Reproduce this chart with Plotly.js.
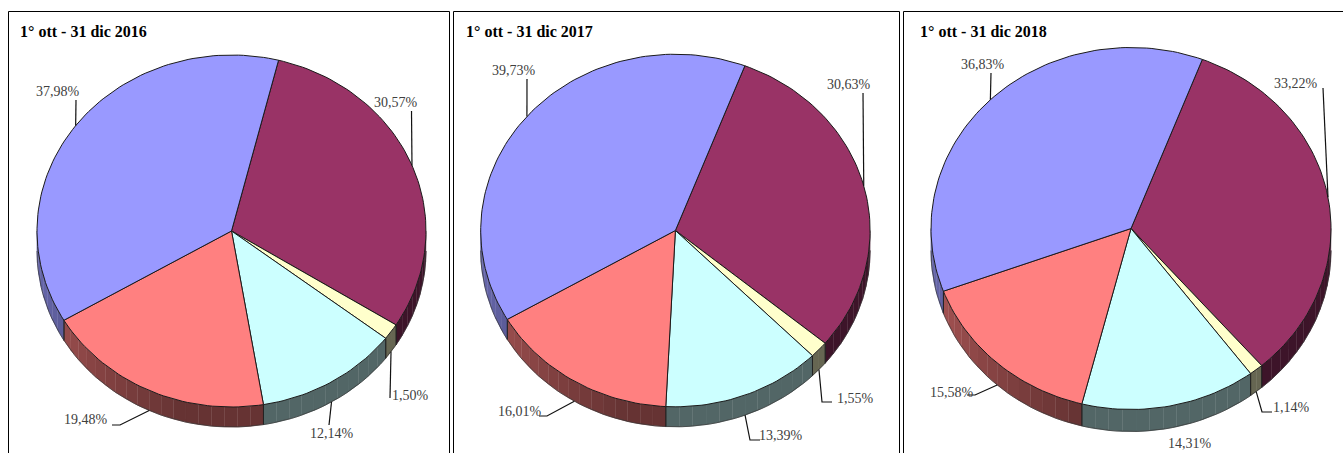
<!DOCTYPE html>
<html><head><meta charset="utf-8">
<script src="https://cdn.plot.ly/plotly-3.0.1.min.js"></script>
<style>html,body{margin:0;padding:0;background:#fff;overflow:hidden}#chart{width:1343px;height:453px}</style>
</head><body><div id="chart"></div>
<script>
// ---- data ----
const sliceNames = ["Prune", "Giallo", "Azzurro", "Rosso", "Viola"];
const titles = ["1° ott - 31 dic 2016", "1° ott - 31 dic 2017", "1° ott - 31 dic 2018"];
const values2016 = [30.57, 1.50, 12.14, 19.48, 37.98];
const values2017 = [30.63, 1.55, 13.39, 16.01, 39.73];
const values2018 = [33.22, 1.14, 14.31, 15.58, 36.83];
const seriesValues = [values2016, values2017, values2018];

// ---- styles ----
const topColors = [[153,51,102],[255,255,204],[204,255,255],[255,128,128],[153,153,255]];
const labelFont = "Liberation Serif";

// ---- layout of each 3-D pie, in page pixels ----
const pies = [
  {cx:231.5, cy:231, rx:194.5, ry:176, depth:20, start:14,
   labelAt:[[396,102],[410,395],[332,433],[86,419],[58,91]],
   elbow:[[411.5,111],[390,398],[329,425],[120,425],[76,100]]},
  {cx:675.4, cy:230.5, rx:194.7, ry:176.3, depth:20, start:20.9,
   labelAt:[[849,84],[855,398],[781,435],[520,411],[514,70]],
   elbow:[[863,93],[826,402],[754,440],[547,416],[527,79]]},
  {cx:1131, cy:228.5, rx:200, ry:181, depth:22, start:20.9,
   labelAt:[[1296,83],[1291,407],[1190,443],[952,392],[983,64]],
   elbow:[[1323,88],[1266,412],[0,0],[975,395],[991,73]]}
];
const frames = [[8.5,11.5,449.5],[453.5,11.5,899.5],[903.5,11.5,1350]];
const titleX = [18, 463.5, 917.5];

const fmt = v => v.toFixed(2).replace(".", ",") + "%";
const rad = d => d * Math.PI / 180;
function sideShade(a){ // lighter toward the left of the rim
  a = ((a % 360) + 360) % 360;
  if (a < 195 || a > 300) return 0.4;
  return a > 255 ? 0.66 : 0.4 + 0.26 * (a - 195) / 60;
}
const rgb = (c, f) => `rgb(${c.map(v => Math.round(v * f)).join(",")})`;

const traces = [];
const annotations = [];
const shapes = frames.map(f => ({type:"rect", xref:"x", yref:"y", x0:f[0], y0:f[1], x1:f[2], y1:470,
  line:{color:"#000", width:1}, fillcolor:"rgba(0,0,0,0)", layer:"below"}));

seriesValues.forEach((vals, p) => {
  const P = pies[p];
  const total = vals.reduce((a, b) => a + b, 0);
  const pt = (a, dz) => [P.cx + P.rx * Math.sin(rad(a)), P.cy - P.ry * Math.cos(rad(a)) + (dz || 0)];
  let a0 = P.start;
  const spans = vals.map(v => { const s = [a0, a0 + v / total * 360]; a0 = s[1]; return s; });

  // rim (only the lower half of the ellipse shows)
  spans.forEach((s, i) => {
    const from = Math.max(s[0], 90), to = Math.min(s[1], 270);
    if (to <= from) return;
    const n = Math.max(1, Math.ceil((to - from) / 4));
    for (let k = 0; k < n; k++) {
      const a = from + (to - from) * k / n, b = from + (to - from) * (k + 1) / n;
      const xs = [], ys = [];
      for (let j = 0; j <= 4; j++) { const q = pt(a + (b - a) * j / 4, 0); xs.push(q[0]); ys.push(q[1]); }
      for (let j = 4; j >= 0; j--) { const q = pt(a + (b - a) * j / 4, P.depth); xs.push(q[0]); ys.push(q[1]); }
      traces.push({x:xs, y:ys, mode:"lines", fill:"toself", hoverinfo:"skip", showlegend:false,
        fillcolor:rgb(topColors[i], sideShade((a + b) / 2)), line:{width:0.6, color:rgb(topColors[i], sideShade((a + b) / 2))}});
    }
    [s[0], s[1]].forEach(e => {
      if (e < 90 || e > 270) return;
      const q0 = pt(e, 0), q1 = pt(e, P.depth);
      traces.push({x:[q0[0], q1[0]], y:[q0[1], q1[1]], mode:"lines", hoverinfo:"skip", showlegend:false, line:{color:"#222", width:1}});
    });
  });
  // rim bottom outline
  const bx = [], by = [];
  for (let a = 90; a <= 270; a += 2) { const q = pt(a, P.depth); bx.push(q[0]); by.push(q[1]); }
  traces.push({x:bx, y:by, mode:"lines", hoverinfo:"skip", showlegend:false, line:{color:"#333", width:0.7}});

  // top face
  spans.forEach((s, i) => {
    const xs = [P.cx], ys = [P.cy];
    const n = Math.max(4, Math.ceil((s[1] - s[0]) / 1.5));
    for (let k = 0; k <= n; k++) { const q = pt(s[0] + (s[1] - s[0]) * k / n); xs.push(q[0]); ys.push(q[1]); }
    xs.push(P.cx); ys.push(P.cy);
    traces.push({x:xs, y:ys, mode:"lines", fill:"toself", name:sliceNames[i], hoverinfo:"skip", showlegend:false,
      fillcolor:rgb(topColors[i], 1), line:{color:"#1a1a1a", width:1}});
  });

  // leaders and labels
  spans.forEach((s, i) => {
    const mid = (s[0] + s[1]) / 2;
    const lower = Math.cos(rad(mid)) < 0;
    const e = pt(mid, lower ? P.depth : 0);
    const el = P.elbow[i];
    if (el[0] !== 0) {
      const xs = [e[0]], ys = [e[1]];
      if (p === 1 && i === 1 || p === 1 && i === 2 || p === 2 && i === 1 || p === 0 && i === 3 || p === 1 && i === 3 || p === 2 && i === 3) {
        xs.push(el[0] + (p === 0 || i === 3 ? 0 : -4)); ys.push(el[1]);
        xs.push(el[0] + (i === 3 ? -8 : 6)); ys.push(el[1]);
      } else { xs.push(el[0]); ys.push(el[1]); }
      traces.push({x:xs, y:ys, mode:"lines", hoverinfo:"skip", showlegend:false, line:{color:"#111", width:1.2}});
    }
    annotations.push({x:P.labelAt[i][0], y:P.labelAt[i][1], xref:"x", yref:"y", showarrow:false,
      text:fmt(vals[i]), xanchor:"center", yanchor:"middle",
      font:{family:labelFont, size:14, color:"#404040"}});
  });

  annotations.push({x:titleX[p], y:31.5, xref:"x", yref:"y", showarrow:false, text:titles[p],
    xanchor:"left", yanchor:"middle", font:{family:labelFont, size:16, color:"#000", weight:700}});
});

Plotly.newPlot("chart", traces, {
  width:1343, height:453, margin:{l:0, r:0, t:0, b:0}, paper_bgcolor:"#fff", plot_bgcolor:"#fff",
  showlegend:false,
  xaxis:{range:[0, 1343], visible:false, fixedrange:true},
  yaxis:{range:[453, 0], visible:false, fixedrange:true},
  shapes, annotations
}, {displayModeBar:false, staticPlot:true});
</script></body></html>
